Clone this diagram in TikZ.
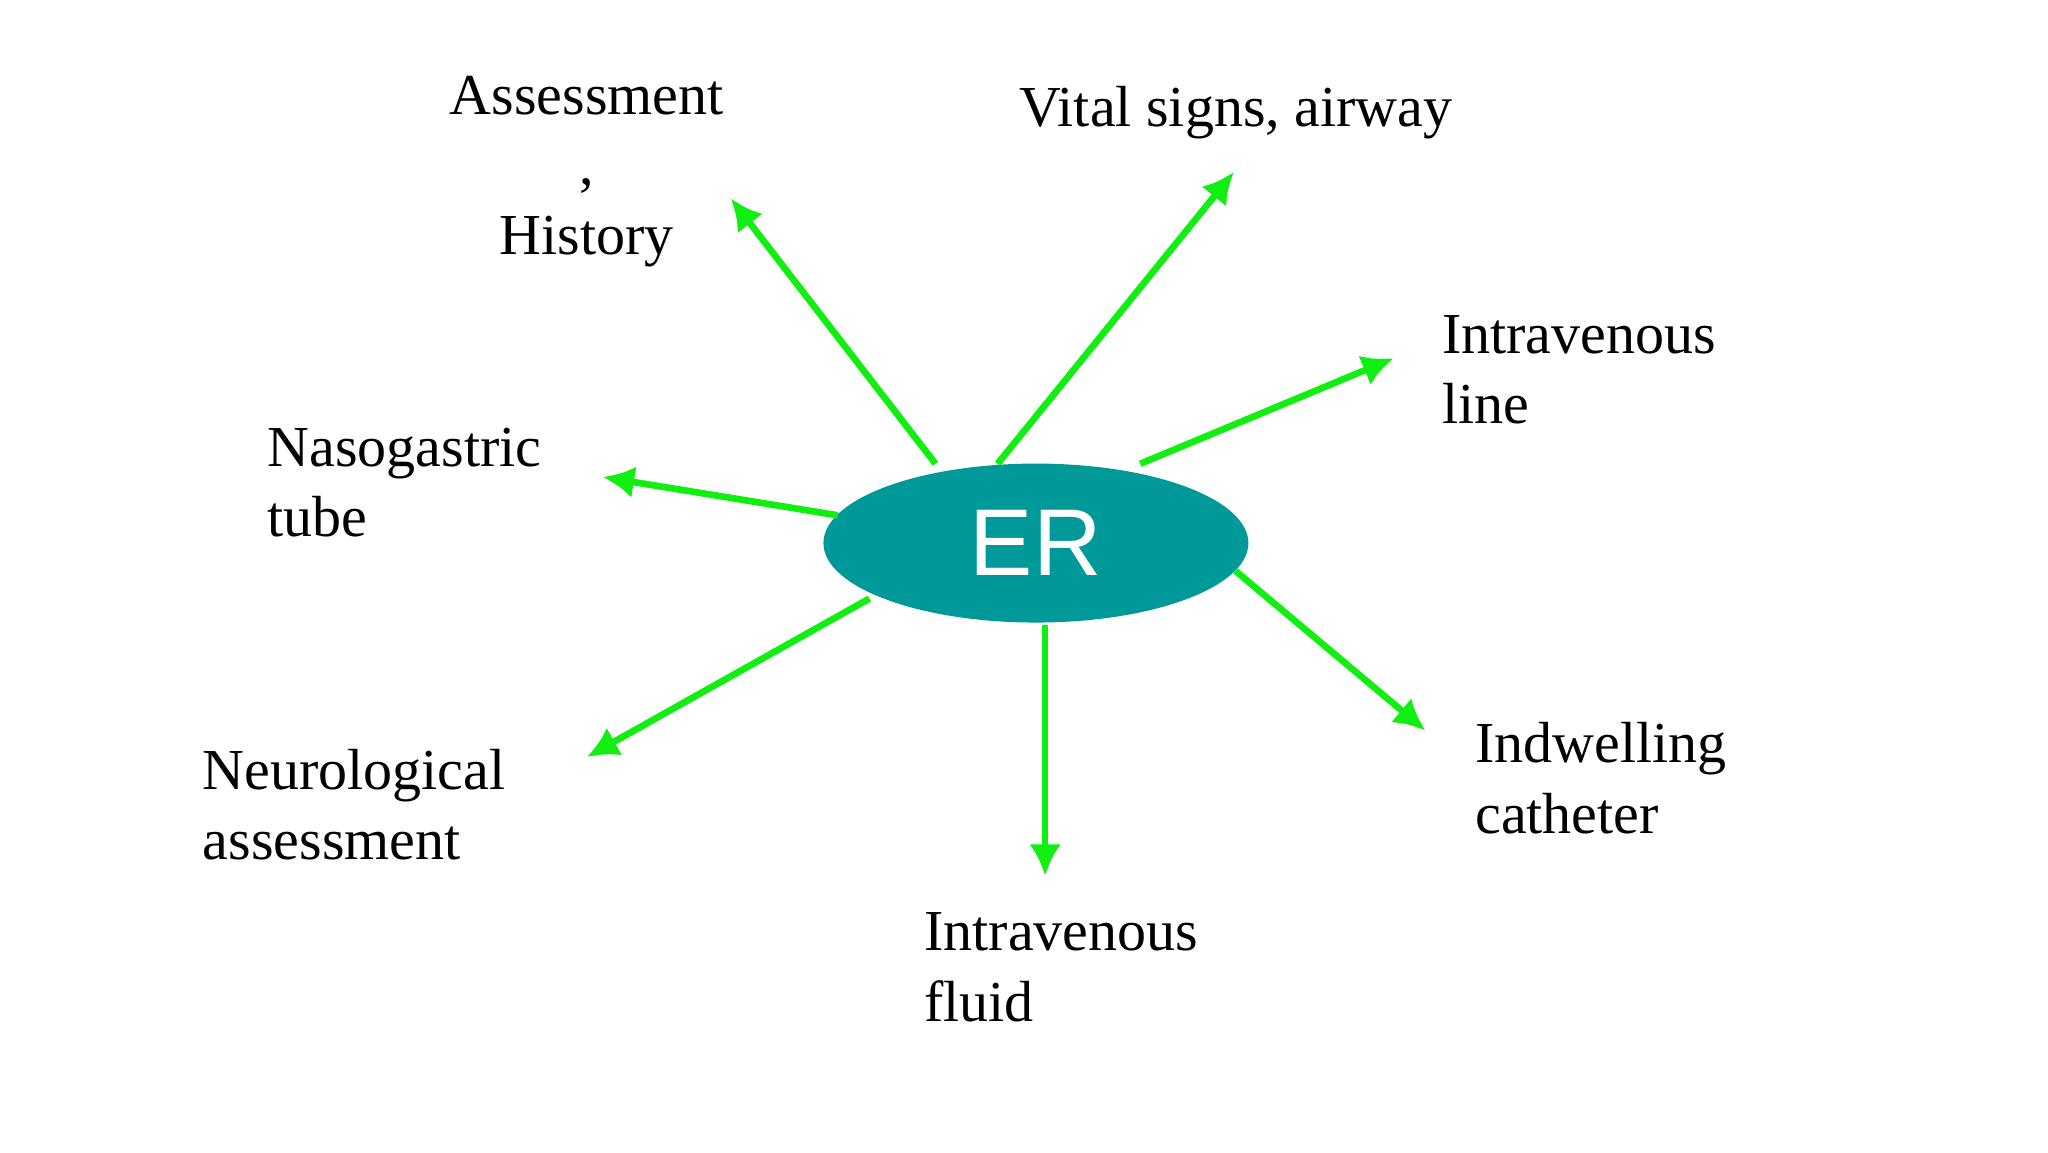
\documentclass[tikz,border=0pt]{standalone}
\usepackage{fontspec}
\usetikzlibrary{arrows.meta,shapes.geometric}
\setmainfont{Liberation Serif}
\newfontfamily\sansf{Liberation Sans}
\definecolor{teal1}{HTML}{009999}
\definecolor{grn}{HTML}{11EE11}
\begin{document}
\begin{tikzpicture}[x=0.013213cm,y=-0.013213cm,
  lbl/.style={font=\fontsize{16.5}{20}\selectfont,align=left,inner sep=0pt},
  arr/.style={draw=grn,line width=1.9pt,-{Latex[length=9pt,width=9pt]}}]
\useasboundingbox (0,0) rectangle (1550,872);
\node[ellipse,fill=teal1,minimum width=4.25cm,minimum height=1.59cm,inner sep=0pt,
  text=white,font=\sansf\fontsize{27}{30}\selectfont] (er) at (784,411) {ER};
\node[lbl,align=center] (a) at (444,130) {Assessment\\,\\History};
\node[lbl,anchor=west] (v) at (771,85) {Vital signs, airway};
\node[lbl,anchor=west] (il) at (1091,280) {Intravenous\\line};
\node[lbl,anchor=west] (ng) at (202,365) {Nasogastric\\tube};
\node[lbl,anchor=west] (nr) at (153,609) {Neurological\\assessment};
\node[lbl,anchor=west] (if) at (699,732) {Intravenous\\fluid};
\node[lbl,anchor=west] (ic) at (1116,589) {Indwelling\\catheter};
\coordinate (s1) at (708,351); \coordinate (e1) at (553,150);
\coordinate (s2) at (755,351); \coordinate (e2) at (934,130);
\coordinate (s3) at (863,351); \coordinate (e3) at (1055,271);
\coordinate (s4) at (634,390); \coordinate (e4) at (456,361);
\coordinate (s5) at (658,453); \coordinate (e5) at (444,573);
\coordinate (s6) at (791,473); \coordinate (e6) at (791,663);
\coordinate (s7) at (935,432); \coordinate (e7) at (1079,553);
\foreach \i in {1,...,7} \draw[arr] (s\i) -- (e\i);
\end{tikzpicture}
\end{document}
